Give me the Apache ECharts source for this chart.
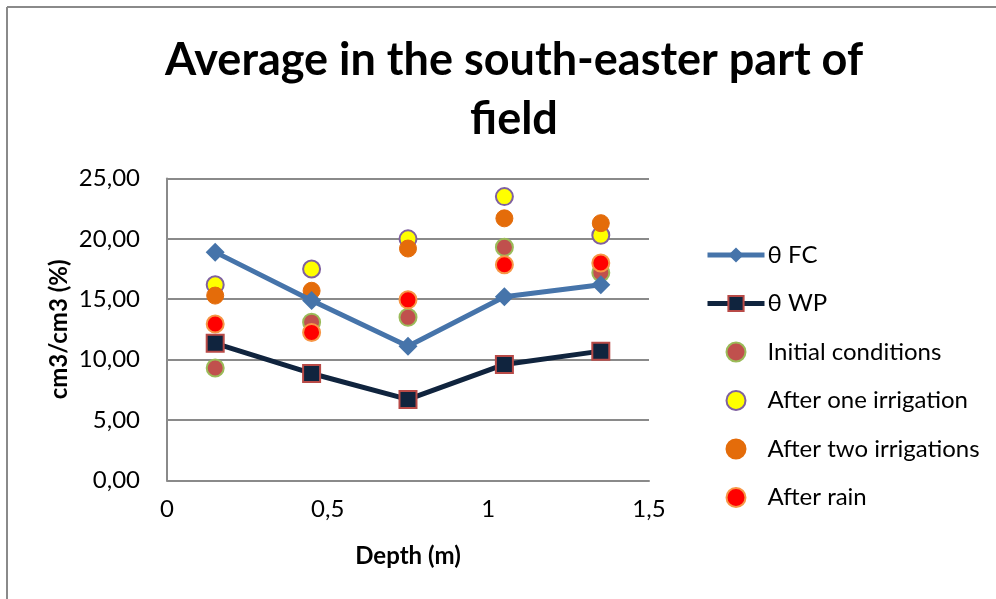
<!DOCTYPE html>
<html>
<head>
<meta charset="utf-8">
<script src="https://cdn.jsdelivr.net/npm/echarts@6/dist/echarts.min.js"></script>
<style>
html,body{margin:0;padding:0;background:#fff;}
#chart{width:996px;height:599px;}
</style>
</head>
<body>
<div id="chart"></div>
<script>
var depths = [0.15, 0.45, 0.75, 1.05, 1.35];
var fcValues = [18.9, 14.9, 11.1, 15.2, 16.2];
var wpValues = [11.35, 8.85, 6.7, 9.6, 10.7];
var initialValues = [9.3, 13.1, 13.5, 19.3, 17.2];
var oneIrrigationValues = [16.2, 17.5, 20.0, 23.5, 20.3];
var twoIrrigationsValues = [15.3, 15.7, 19.2, 21.7, 21.3];
var rainValues = [12.95, 12.25, 14.95, 17.85, 18.0];
var yTicks = [0, 5, 10, 15, 20, 25];
var xTicks = [0, 0.5, 1, 1.5];
var seriesNames = ['θ FC', 'θ WP', 'Initial conditions', 'After one irrigation', 'After two irrigations', 'After rain'];

function pairs(vals) { return depths.map(function (d, i) { return [d, vals[i]]; }); }

var FONT = 'Lato';
var chart = echarts.init(document.getElementById('chart'), null, {renderer: 'canvas'});
var option = {
  backgroundColor: '#ffffff',
  animation: false,
  title: {
    text: 'Average in the south-easter part of\nfield',
    left: 509,
    top: 26,
    textAlign: 'center',
    textStyle: {fontFamily: FONT, fontWeight: 'bold', fontSize: 45, lineHeight: 59, color: '#000'}
  },
  graphic: [
    {type: 'line', shape: {x1: 7, y1: 7, x2: 996, y2: 7}, style: {stroke: '#8a8a8a', lineWidth: 2}},
    {type: 'line', shape: {x1: 7, y1: 7, x2: 7, y2: 599}, style: {stroke: '#8a8a8a', lineWidth: 2}}
  ],
  legend: {
    orient: 'vertical',
    left: 705,
    top: 243,
    padding: 0,
    itemWidth: 57,
    itemHeight: 19,
    itemGap: 24.5,
    data: seriesNames,
    lineStyle: {width: 'inherit'},
    textStyle: {fontFamily: FONT, fontSize: 24, color: '#000', lineHeight: 24, padding: [0, 0, 0, -2]}
  },
  grid: {left: 167, right: 347, top: 178.5, bottom: 118.7, containLabel: false},
  xAxis: {
    type: 'value', min: 0, max: 1.5, interval: 0.5,
    name: 'Depth (m)', nameLocation: 'middle', nameGap: 64,
    nameTextStyle: {fontFamily: FONT, fontWeight: 'bold', fontSize: 24, color: '#000'},
    axisLine: {show: true, lineStyle: {color: '#8a8a8a', width: 2}},
    axisTick: {show: false},
    splitLine: {show: false},
    axisLabel: {fontFamily: FONT, fontSize: 24, color: '#000', margin: 17,
      formatter: function (v) { return String(v).replace('.', ','); }}
  },
  yAxis: {
    type: 'value', min: 0, max: 25, interval: 5,
    name: 'cm3/cm3 (%)', nameLocation: 'middle', nameGap: 96,
    nameTextStyle: {fontFamily: FONT, fontWeight: 'bold', fontSize: 24, color: '#000'},
    axisLine: {show: true, lineStyle: {color: '#8a8a8a', width: 2}},
    axisTick: {show: false},
    splitLine: {show: true, lineStyle: {color: '#8a8a8a', width: 2}},
    axisLabel: {fontFamily: FONT, fontSize: 24, color: '#000', margin: 27,
      formatter: function (v) { return v.toFixed(2).replace('.', ','); }}
  },
  series: [
    {name: seriesNames[0], type: 'line', data: pairs(fcValues), symbol: 'diamond', symbolSize: 19,
      lineStyle: {color: '#4674AA', width: 5}, itemStyle: {color: '#4674AA'}},
    {name: seriesNames[1], type: 'line', data: pairs(wpValues), symbol: 'rect', symbolSize: 17,
      lineStyle: {color: '#10243E', width: 5}, itemStyle: {color: '#10243E', borderColor: '#B84A47', borderWidth: 2}},
    {name: seriesNames[2], type: 'scatter', data: pairs(initialValues), symbol: 'circle', symbolSize: 17,
      itemStyle: {color: '#C0504D', borderColor: '#9BBB59', borderWidth: 2, opacity: 1}},
    {name: seriesNames[3], type: 'scatter', data: pairs(oneIrrigationValues), symbol: 'circle', symbolSize: 17,
      itemStyle: {color: '#FFFF00', borderColor: '#7F60A0', borderWidth: 2, opacity: 1}},
    {name: seriesNames[4], type: 'scatter', data: pairs(twoIrrigationsValues), symbol: 'circle', symbolSize: 17,
      itemStyle: {color: '#E46C0A', borderColor: '#E46C0A', borderWidth: 1, opacity: 1}},
    {name: seriesNames[5], type: 'scatter', data: pairs(rainValues), symbol: 'circle', symbolSize: 17,
      itemStyle: {color: '#FF0000', borderColor: '#F79646', borderWidth: 2, opacity: 1}}
  ]
};
chart.setOption(option);
</script>
</body>
</html>
